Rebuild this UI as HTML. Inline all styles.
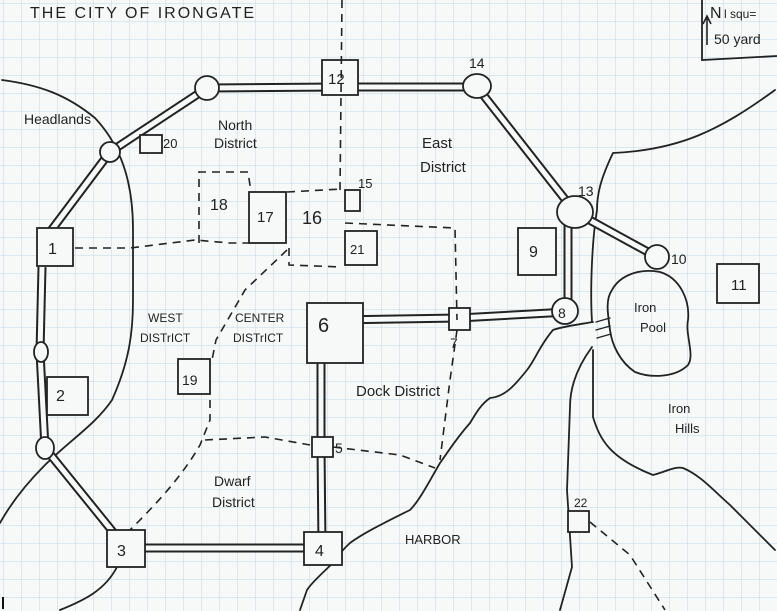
<!DOCTYPE html>
<html><head><meta charset="utf-8"><style>
html,body{margin:0;padding:0;background:#f7f9f9;}
svg{display:block}
text{font-family:"Liberation Sans",sans-serif;fill:#222;}
</style></head><body>
<svg width="777" height="611" viewBox="0 0 777 611" xmlns="http://www.w3.org/2000/svg">
<defs>
<pattern id="g" width="18" height="18" patternUnits="userSpaceOnUse" x="4" y="4">
<path d="M18 0V18M0 18H18" stroke="#bfd7ea" stroke-width="1" fill="none"/>
</pattern>
</defs>
<rect width="777" height="611" fill="#f7f9f9"/>
<rect width="777" height="611" fill="url(#g)"/>

<g fill="none" stroke="#222" stroke-width="1.8" stroke-linecap="round" stroke-linejoin="round">
<path d="M2 80 C40 85 67 95 95 118 C125 150 133 190 133 230 L133 300 C133 330 130 360 112 400 C95 425 70 440 45 465 C25 485 10 505 0 523"/>
<path d="M117 567 C105 590 85 600 60 610"/>
<path d="M775 90 C720 130 680 150 613 153 C600 180 597 195 597 210 C592 240 590 290 592 322"/>
<path d="M593 350 L593 417 C600 440 610 458 653 475 C665 472 675 466 683 468 C700 475 713 490 730 505 L775 550"/>
<path d="M592 347 C575 370 570 390 570 407 L567 490 L572 567 L560 610"/>
<path d="M593 322 C575 325 560 327 553 330 C540 345 535 360 527 370 C515 385 505 397 490 398 C480 405 475 415 470 423 C455 440 448 452 440 463 C430 480 420 500 410 510 C390 520 365 532 350 543 C340 552 337 558 333 563 C320 575 310 585 307 590 L300 610"/>
<path d="M612 290 C620 275 640 268 660 272 C680 278 690 300 688 320 C685 335 695 355 688 365 C675 378 650 378 635 372 C620 362 612 345 610 330 C608 315 605 300 612 290Z"/>
<path d="M596 322 L610 318 M596 330 L610 326 M597 338 L611 334" stroke-width="1.4"/>
</g>

<g fill="none" stroke-linecap="butt" stroke-linejoin="round">
<path d="M50 232 L110 152 L207 88 L340 87 L477 87 L575 212 L657 257 M568 212 L568 312 L459 318 L335 320 M321 363 L321 447 L322 548 L126 548 L45 448 L40 352 L42 267" stroke="#222" stroke-width="9"/>
<path d="M50 232 L110 152 L207 88 L340 87 L477 87 L575 212 L657 257 M568 212 L568 312 L459 318 L335 320 M321 363 L321 447 L322 548 L126 548 L45 448 L40 352 L42 267" stroke="#f7f9f9" stroke-width="5"/>
</g>

<g fill="#f7f9f9" stroke="#222" stroke-width="1.8">
<circle cx="110" cy="152" r="10"/>
<circle cx="207" cy="88" r="12"/>
<ellipse cx="477" cy="86" rx="14" ry="12"/>
<ellipse cx="575" cy="212" rx="18" ry="16"/>
<circle cx="657" cy="257" r="12"/>
<circle cx="565" cy="311" r="13"/>
<ellipse cx="41" cy="352" rx="7" ry="10"/>
<ellipse cx="45" cy="448" rx="9" ry="11"/>
<rect x="322" y="60" width="36" height="35"/>
<rect x="37" y="228" width="36" height="38"/>
<rect x="47" y="377" width="41" height="38"/>
<rect x="107" y="530" width="38" height="37"/>
<rect x="304" y="532" width="38" height="33"/>
<rect x="312" y="437" width="21" height="20"/>
<rect x="307" y="303" width="56" height="60"/>
<rect x="449" y="308" width="21" height="22"/>
<rect x="518" y="228" width="38" height="47"/>
<rect x="717" y="264" width="42" height="39"/>
<rect x="140" y="135" width="22" height="18"/>
<rect x="249" y="192" width="37" height="51"/>
<rect x="345" y="190" width="15" height="21"/>
<rect x="345" y="231" width="32" height="34"/>
<rect x="178" y="359" width="32" height="35"/>
<rect x="568" y="511" width="21" height="21"/>
<path d="M702 0 L702 60 L777 56" fill="none"/>
</g>

<g fill="none" stroke="#222" stroke-width="1.6" stroke-dasharray="8 6">
<path d="M342 0 L340 190"/>
<path d="M75 248 L130 248 L195 240 L230 243 L249 243"/>
<path d="M199 243 L199 172 L248 172 L251 192"/>
<path d="M287 192 L342 189"/>
<path d="M289 248 L289 265 L342 267"/>
<path d="M345 223 L455 228 L457 320"/>
<path d="M457 330 L450 380 L440 460"/>
<path d="M287 250 L245 290 L216 340 L212 360 M210 400 L210 420 L200 445 C180 480 150 510 130 530"/>
<path d="M205 440 L265 437 L310 445 M333 447 L400 455 L435 468"/>
<path d="M590 522 L630 555 L665 610"/>
</g>
<path d="M707 45 L707 18 M703 24 L707 16 L711 24" stroke="#222" stroke-width="1.6" fill="none"/>

<g font-size="15">
<text x="30" y="18" font-size="16" letter-spacing="2">THE CITY OF IRONGATE</text>
<text x="24" y="124" font-size="14">Headlands</text>
<text x="218" y="130" font-size="14">North</text>
<text x="214" y="148" font-size="14">District</text>
<text x="422" y="148" font-size="15">East</text>
<text x="420" y="172" font-size="15">District</text>
<text x="148" y="322" font-size="12">WEST</text>
<text x="140" y="342" font-size="12">DISTrICT</text>
<text x="235" y="322" font-size="12">CENTER</text>
<text x="233" y="342" font-size="12">DISTrICT</text>
<text x="356" y="396" font-size="15">Dock District</text>
<text x="214" y="486" font-size="14">Dwarf</text>
<text x="212" y="507" font-size="14">District</text>
<text x="405" y="544" font-size="13">HARBOR</text>
<text x="634" y="312" font-size="13">Iron</text>
<text x="640" y="332" font-size="13">Pool</text>
<text x="668" y="413" font-size="13">Iron</text>
<text x="675" y="433" font-size="13">Hills</text>
<text x="710" y="18" font-size="16">N</text>
<text x="724" y="18" font-size="12">l squ=</text>
<text x="714" y="44" font-size="14">50 yard</text>
<text x="328" y="84" font-size="15">12</text>
<text x="469" y="68" font-size="14">14</text>
<text x="578" y="196" font-size="14">13</text>
<text x="671" y="264" font-size="14">10</text>
<text x="731" y="290" font-size="15">11</text>
<text x="529" y="257" font-size="16">9</text>
<text x="558" y="318" font-size="14">8</text>
<text x="450" y="348" font-size="14">7</text>
<text x="318" y="332" font-size="20">6</text>
<text x="335" y="453" font-size="14">5</text>
<text x="315" y="556" font-size="16">4</text>
<text x="117" y="556" font-size="16">3</text>
<text x="56" y="401" font-size="16">2</text>
<text x="48" y="254" font-size="16">1</text>
<text x="163" y="148" font-size="13">20</text>
<text x="210" y="210" font-size="16">18</text>
<text x="257" y="222" font-size="15">17</text>
<text x="302" y="224" font-size="18">16</text>
<text x="358" y="188" font-size="13">15</text>
<text x="350" y="254" font-size="13">21</text>
<text x="182" y="385" font-size="14">19</text>
<text x="574" y="507" font-size="12">22</text>
</g>
<rect x="2" y="597" width="2" height="12" fill="#111"/>
</svg>
</body></html>
